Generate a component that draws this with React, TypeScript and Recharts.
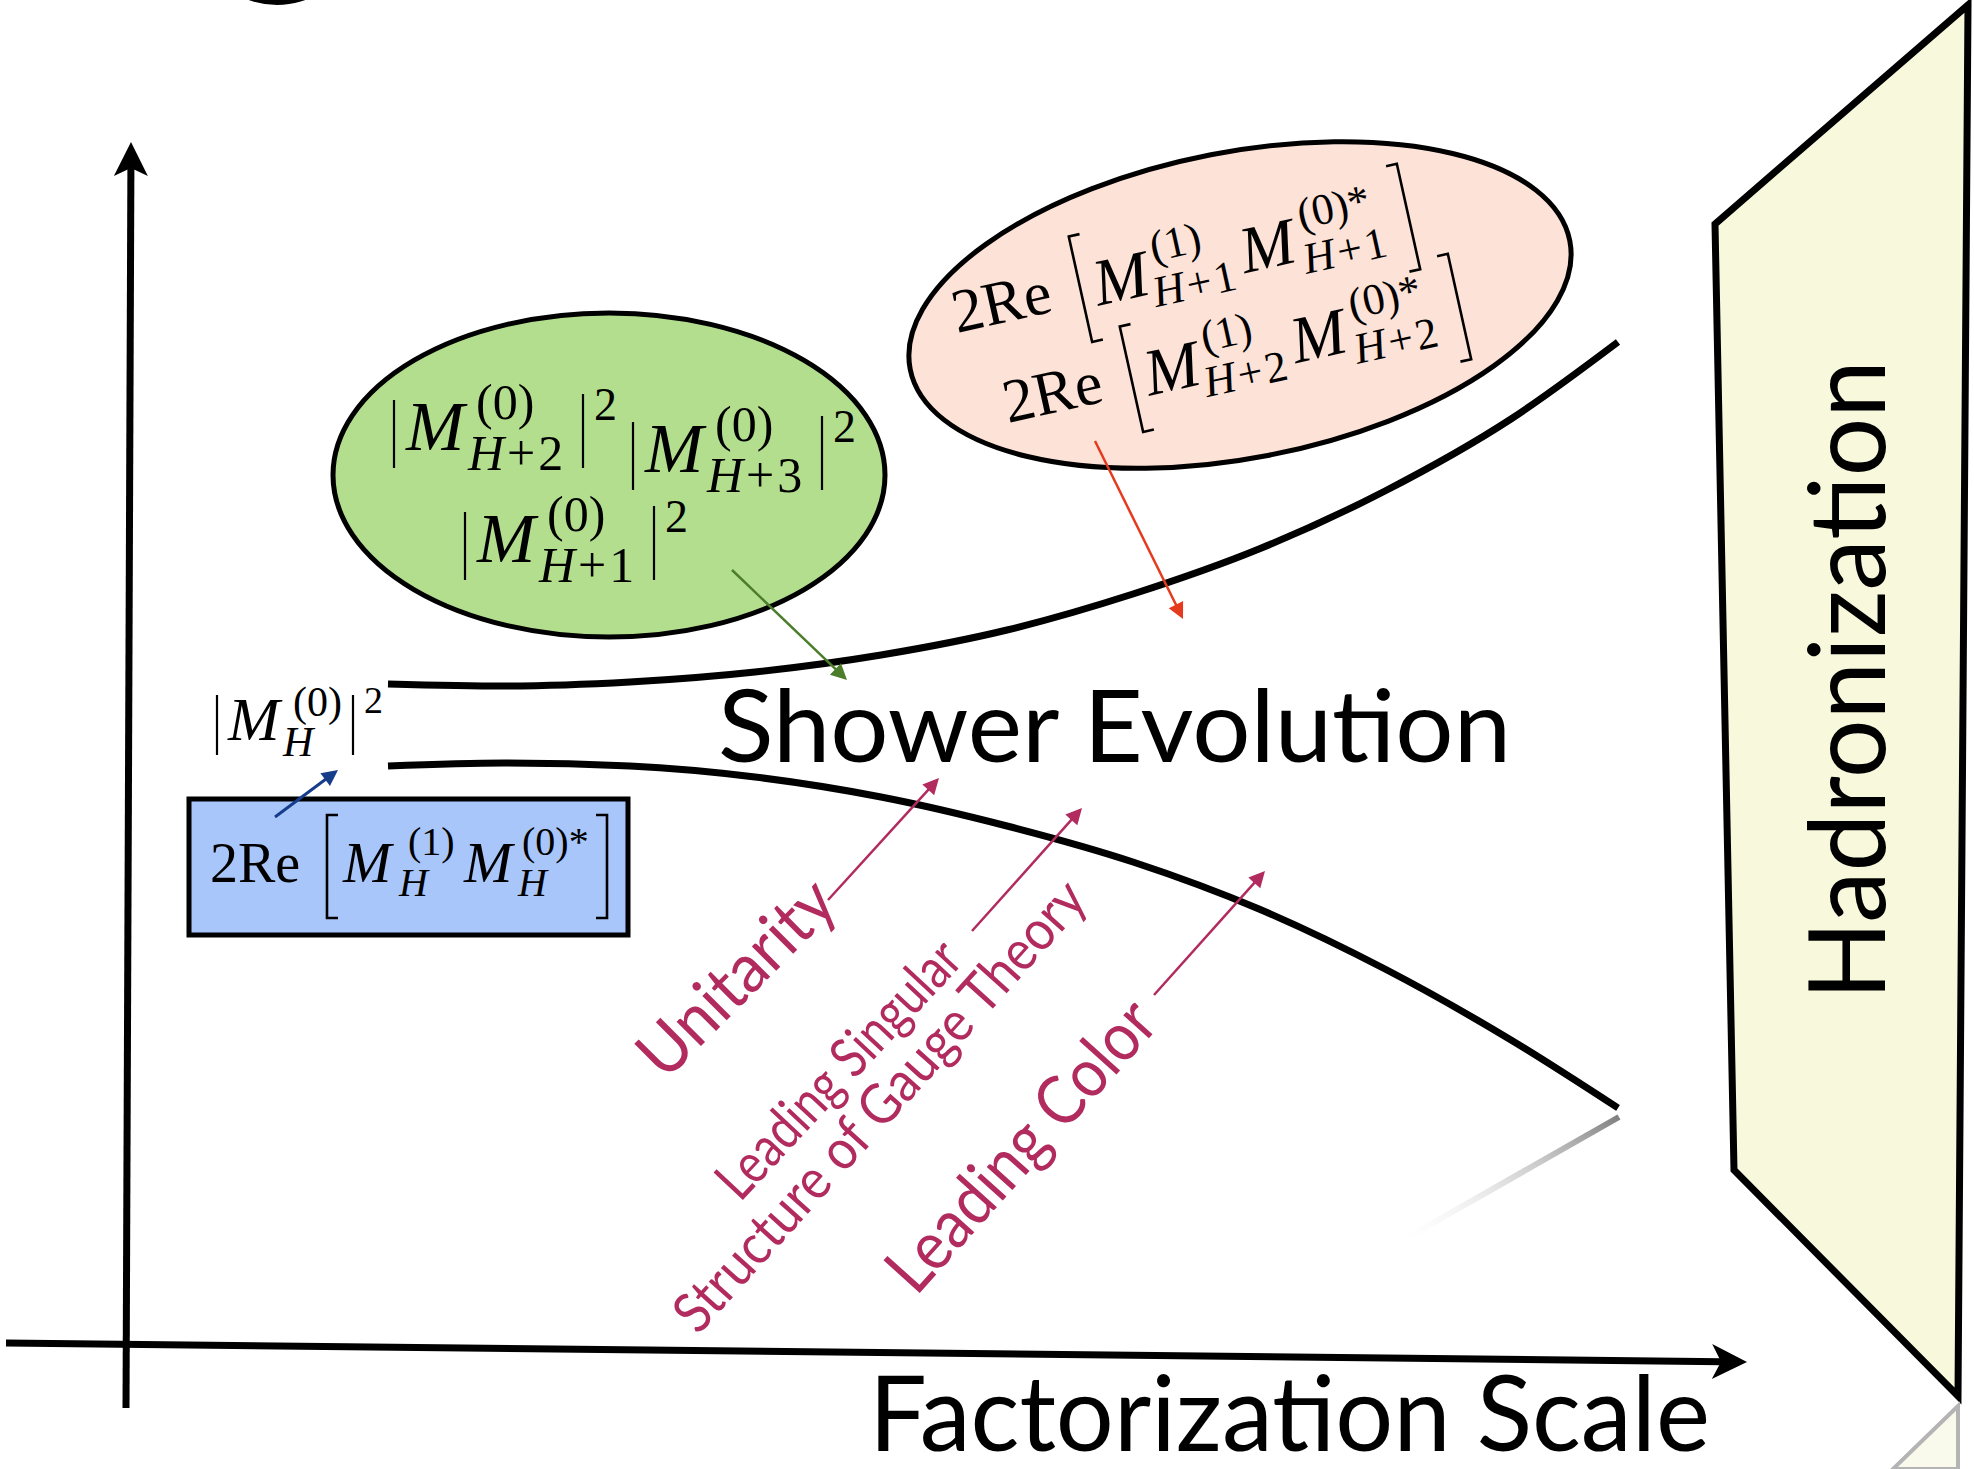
import React from "react";
import {
  ComposedChart,
  Line,
  XAxis,
  YAxis,
  ReferenceDot,
  ReferenceArea,
} from "recharts";

// canvas is the original picture, 1 unit = 1 px
const W = 1974;
const H = 1469;

// the two walls of the shower band
const curveX = [388, 504, 630, 755, 881, 1007, 1133, 1259, 1385, 1511, 1618];
const upperY = [684, 686, 682, 672, 655, 630, 594, 549, 491, 419, 342];
const lowerY = [766, 763, 766, 777, 797, 826, 862, 909, 969, 1040, 1108];

const upper = curveX.map((x, i) => ({ x, y: upperY[i] }));
const lower = curveX.map((x, i) => ({ x, y: lowerY[i] }));

// diagonal labels: text, start, angle, size, length
const slantLabels = [
  { text: "Unitarity", x: 665, y: 1082, angle: -45, size: 68, len: 248 },
  { text: "Leading Singular", x: 740, y: 1203, angle: -47, size: 56, len: 330 },
  { text: "Structure of Gauge Theory", x: 698, y: 1336, angle: -48, size: 56, len: 585 },
  { text: "Leading Color", x: 916, y: 1297, angle: -48, size: 68, len: 366 },
];

const PURPLE = "#b22b5e";
const SANS = "Lato, 'Open Sans', sans-serif";
const SERIF = "'Liberation Serif', 'Times New Roman', serif";

const pin = (key: string, x: number, y: number, draw: React.ReactNode) => (
  <ReferenceDot
    key={key}
    x={x}
    y={y}
    r={1}
    ifOverflow="visible"
    shape={(p: any) => <g transform={`translate(${p.cx},${p.cy})`}>{draw}</g>}
  />
);

const sym = (x: number, y: number, s: number, t: string, italic = false) => (
  <text x={x} y={y} fontSize={s} fontFamily={SERIF} fontStyle={italic ? "italic" : "normal"} fill="#000">
    {t}
  </text>
);

const subH = (x: number, y: number, s: number, n?: string) => (
  <text x={x} y={y} fontSize={s} fontFamily={SERIF} fill="#000">
    <tspan fontStyle="italic">H</tspan>
    {n && <tspan dx={3}>+</tspan>}
    {n && <tspan dx={3}>{n}</tspan>}
  </text>
);

const bar = (x: number, y1: number, y2: number) => (
  <line x1={x} x2={x} y1={y1} y2={y2} stroke="#000" strokeWidth={2.2} />
);

const lbr = (x: number, y1: number, y2: number) => (
  <path d={`M${x + 11},${y1}H${x}V${y2}H${x + 11}`} fill="none" stroke="#000" strokeWidth={2.6} />
);
const rbr = (x: number, y1: number, y2: number) => (
  <path d={`M${x - 11},${y1}H${x}V${y2}H${x - 11}`} fill="none" stroke="#000" strokeWidth={2.6} />
);

// |M^{(0)}_{H+n}|^2
const absSq = (n: string) => (
  <g>
    {bar(0, -50, 18)}
    {sym(12, 0, 70, "M", true)}
    {sym(82, -31, 50, "(0)")}
    {subH(74, 20, 50, n)}
    {bar(189, -56, 18)}
    {sym(200, -30, 46, "2")}
  </g>
);

// 2Re[M^{(1)}_{H+n} M^{(0)*}_{H+n}]
const reLine = (n: string) => (
  <g transform="rotate(-12.5)">
    {sym(0, 0, 62, "2Re")}
    {lbr(130, -70, 38)}
    {sym(144, 4, 66, "M", true)}
    {sym(207, -27, 44, "(1)")}
    {subH(200, 18, 44, n)}
    {sym(294, 4, 66, "M", true)}
    {sym(358, -27, 44, "(0)*")}
    {subH(354, 18, 44, n)}
    {rbr(466, -70, 38)}
  </g>
);

const arrow = (
  key: string,
  x1: number,
  y1: number,
  x2: number,
  y2: number,
  color: string,
  width: number,
  head: number,
  notch = 0
) => {
  const dx = x2 - x1;
  const dy = y2 - y1;
  const len = Math.hypot(dx, dy);
  const ux = dx / len;
  const uy = dy / len;
  const bx = dx - ux * head;
  const by = dy - uy * head;
  const w = head * 0.5;
  const nx = bx + ux * notch;
  const ny = by + uy * notch;
  return pin(
    key,
    x1,
    y1,
    <g>
      <line x1={0} y1={0} x2={nx + ux} y2={ny + uy} stroke={color} strokeWidth={width} />
      <polygon
        points={`${dx},${dy} ${bx - uy * w},${by + ux * w} ${nx},${ny} ${bx + uy * w},${by - ux * w}`}
        fill={color}
      />
    </g>
  );
};

const polyAt = (key: string, pts: number[][], props: any) => {
  const [x0, y0] = pts[0];
  return pin(
    key,
    x0,
    y0,
    <polygon points={pts.map(([x, y]) => `${x - x0},${y - y0}`).join(" ")} {...props} />
  );
};

export default function App() {
  return (
    <div style={{ width: W, height: H, background: "#fff" }}>
      <style>{"body{margin:0}"}</style>
      <ComposedChart width={W} height={H} margin={{ top: 0, right: 0, bottom: 0, left: 0 }}>
        <XAxis type="number" dataKey="x" domain={[0, W]} hide allowDataOverflow />
        <YAxis type="number" dataKey="y" domain={[0, H]} reversed hide allowDataOverflow />

        {/* hadronization wall and its reflection */}
        {polyAt("hadron", [[1968, 5], [1715, 224], [1734, 1170], [1958, 1396]], {
          fill: "#f8f8dc",
          stroke: "#000",
          strokeWidth: 7,
          strokeLinejoin: "miter",
        })}
        {polyAt("reflect", [[1958, 1406], [1893, 1469], [1958, 1469]], {
          fill: "#f9f9ec",
          stroke: "#b4b4b4",
          strokeWidth: 4,
        })}

        {/* cut-off title glyph */}
        {pin("glyph", 277, 0, <ellipse cx={0} cy={-40} rx={62} ry={45} fill="#000" />)}

        {/* blobs */}
        {pin("green", 609, 475, <ellipse rx={276} ry={162} fill="#b3de8e" stroke="#000" strokeWidth={5} />)}
        {pin(
          "pink",
          1240,
          305,
          <ellipse rx={336} ry={153} transform="rotate(-11)" fill="#fde2d7" stroke="#000" strokeWidth={5} />
        )}
        <ReferenceArea x1={189} x2={628} y1={799} y2={935} fill="#a8c6fa" fillOpacity={1} stroke="#000" strokeWidth={5} ifOverflow="visible" />

        {/* band */}
        <Line
          data={upper}
          dataKey="y"
          type="monotone"
          stroke="#000"
          strokeWidth={7}
          strokeLinecap="butt"
          dot={false}
          activeDot={false}
          isAnimationActive={false}
        />
        <Line
          data={lower}
          dataKey="y"
          type="monotone"
          stroke="#000"
          strokeWidth={7}
          strokeLinecap="butt"
          dot={false}
          activeDot={false}
          isAnimationActive={false}
        />
        {pin(
          "shadow",
          1391,
          1117,
          <g>
            <defs>
              <linearGradient id="shadowGrad" x1="1" y1="0" x2="0" y2="1">
                <stop offset="0%" stopColor="#808080" stopOpacity={1} />
                <stop offset="100%" stopColor="#ffffff" stopOpacity={0} />
              </linearGradient>
            </defs>
            <line x1={228} y1={0} x2={0} y2={130} stroke="url(#shadowGrad)" strokeWidth={6} />
          </g>
        )}

        {/* axes */}
        {arrow("yaxis", 126, 1408, 131, 142, "#000", 7, 34, 8)}
        {arrow("xaxis", 6, 1343, 1747, 1362, "#000", 7, 35, 9)}

        {/* formulas */}
        {pin("g1", 394, 450, absSq("2"))}
        {pin("g2", 633, 472, absSq("3"))}
        {pin("g3", 465, 562, absSq("1"))}
        {pin("p1", 957, 333, reLine("1"))}
        {pin("p2", 1008, 423, reLine("2"))}
        {pin(
          "born",
          217,
          740,
          <g>
            {bar(0, -45, 15)}
            {sym(11, 0, 62, "M", true)}
            {sym(76, -24, 42, "(0)")}
            {subH(66, 16, 42)}
            {bar(136, -45, 15)}
            {sym(147, -27, 38, "2")}
          </g>
        )}
        {pin(
          "virt",
          210,
          882,
          <g>
            {sym(0, 0, 56, "2Re")}
            {lbr(117, -67, 36)}
            {sym(133, 0, 58, "M", true)}
            {sym(198, -27, 40, "(1)")}
            {subH(189, 14, 40)}
            {sym(254, 0, 58, "M", true)}
            {sym(312, -27, 40, "(0)*")}
            {subH(308, 14, 40)}
            {rbr(397, -67, 36)}
          </g>
        )}

        {/* big labels */}
        {pin(
          "shower",
          718,
          762,
          <text fontSize={100} fontFamily={SANS} fill="#000" textLength={793} lengthAdjust="spacingAndGlyphs">
            Shower Evolution
          </text>
        )}
        {pin(
          "fact",
          869,
          1451,
          <text fontSize={104} fontFamily={SANS} fill="#000" textLength={841} lengthAdjust="spacingAndGlyphs">
            Factorization Scale
          </text>
        )}
        {pin(
          "hadtext",
          1885,
          1000,
          <text transform="rotate(-90)" fontSize={107} fontFamily={SANS} fill="#000" textLength={640} lengthAdjust="spacingAndGlyphs">
            Hadronization
          </text>
        )}
        {slantLabels.map((l) =>
          pin(
            l.text,
            l.x,
            l.y,
            <text
              transform={`rotate(${l.angle})`}
              fontSize={l.size}
              fontFamily={SANS}
              fill={PURPLE}
              textLength={l.len}
              lengthAdjust="spacingAndGlyphs"
            >
              {l.text}
            </text>
          )
        )}

        {/* pointers */}
        {arrow("a-unit", 828, 900, 939, 778, PURPLE, 2.5, 16)}
        {arrow("a-sing", 972, 931, 1082, 808, PURPLE, 2.5, 16)}
        {arrow("a-color", 1154, 995, 1265, 871, PURPLE, 2.5, 16)}
        {arrow("a-green", 732, 570, 847, 680, "#4b7d2a", 2.5, 16)}
        {arrow("a-red", 1095, 441, 1183, 619, "#e63a1e", 2.5, 16)}
        {arrow("a-blue", 275, 817, 338, 770, "#163d8a", 3, 16)}
      </ComposedChart>
    </div>
  );
}
